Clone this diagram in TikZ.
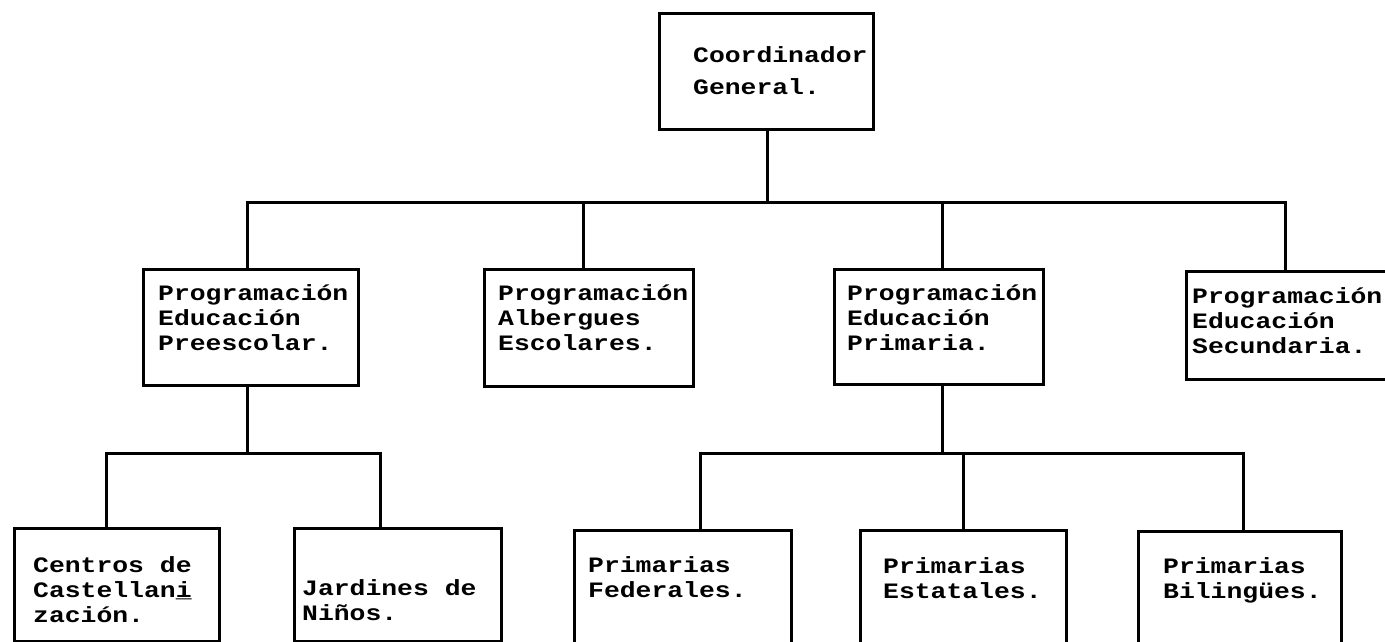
\documentclass[tikz,border=0pt]{standalone}
\usepackage{fontspec}
\newfontfamily\twfont{Liberation Mono}[FakeStretch=1.2]
\newcommand\firstline{\rule{0pt}{20pt}}
\newcommand\twsize[1]{\twfont\bfseries\fontsize{22}{#1}\selectfont\lineskiplimit -30pt\relax}
\begin{document}
\begin{tikzpicture}[x=1pt,y=-1pt,
  box/.style={draw, line width=3pt, rectangle, inner sep=0pt, anchor=north west},
  txt/.style={font=\twsize{25}, align=left, inner sep=0pt, anchor=north west},
  link/.style={line width=3pt, line cap=rect}]
\useasboundingbox (0,0) rectangle (1385,642);
\clip (0,0) rectangle (1385,642);
\fill[white] (0,0) rectangle (1385,642);
% top box
\node[box, minimum width=214pt, minimum height=116pt] (coord) at (658,12) {};
\node[txt, font=\twsize{32}] (coordt) at (693,42) {\firstline Coordinador\\General.};
% second row
\node[box, minimum width=215pt, minimum height=116pt] (p1) at (142,268) {};
\node[box, minimum width=209pt, minimum height=117pt] (p2) at (483,268) {};
\node[box, minimum width=209pt, minimum height=115pt] (p3) at (833,268) {};
\node[box, minimum width=215pt, minimum height=108pt] (p4) at (1185,270) {};
\node[txt] (p1t) at (158,280) {\firstline Programación\\Educación\\Preescolar.};
\node[txt] (p2t) at (498,280) {\firstline Programación\\Albergues\\Escolares.};
\node[txt] (p3t) at (847,280) {\firstline Programación\\Educación\\Primaria.};
\node[txt] (p4t) at (1192,283) {\firstline Programación\\Educación\\Secundaria.};
% third row
\node[box, minimum width=205pt, minimum height=113pt] (c1) at (13,527) {};
\node[box, minimum width=207pt, minimum height=113pt] (c2) at (293,527) {};
\node[box, minimum width=217pt, minimum height=131pt] (c3) at (573,529) {};
\node[box, minimum width=206pt, minimum height=131pt] (c4) at (859,529) {};
\node[box, minimum width=203pt, minimum height=130pt] (c5) at (1137,530) {};
\node[txt] (c1t) at (33,552) {\firstline Centros de\\Castellan\rlap{i}\_\\zación.};
\node[txt] (c2t) at (302,575) {\firstline Jardines de\\Niños.};
\node[txt] (c3t) at (588,552) {\firstline Primarias\\Federales.};
\node[txt] (c4t) at (883,553) {\firstline Primarias\\Estatales.};
\node[txt] (c5t) at (1163,553) {\firstline Primarias\\Bilingües.};
% junction coordinates
\coordinate (cj) at (767,202);
\coordinate (j1) at (247,202);
\coordinate (j2) at (583,202);
\coordinate (j3) at (942,202);
\coordinate (j4) at (1285,202);
\coordinate (k1) at (106,453);
\coordinate (k0) at (247,453);
\coordinate (k2) at (380,453);
\coordinate (m1) at (700,453);
\coordinate (m0) at (942,453);
\coordinate (m2) at (963,453);
\coordinate (m3) at (1243,453);
% connectors
\draw[link] (coord.south -| cj) -- (cj);
\draw[link, line cap=butt] (p1.north -| j1) -- (j1) -- (j4) -- (p4.north -| j4);
\draw[link] (j2) -- (p2.north -| j2);
\draw[link] (j3) -- (p3.north -| j3);
\draw[link] (p1.south -| k0) -- (k0);
\draw[link, line cap=butt] (c1.north -| k1) -- (k1) -- (k2) -- (c2.north -| k2);
\draw[link] (p3.south -| m0) -- (m0);
\draw[link, line cap=butt] (c3.north -| m1) -- (m1) -- (m3) -- (c5.north -| m3);
\draw[link] (m2) -- (c4.north -| m2);
\end{tikzpicture}
\end{document}
